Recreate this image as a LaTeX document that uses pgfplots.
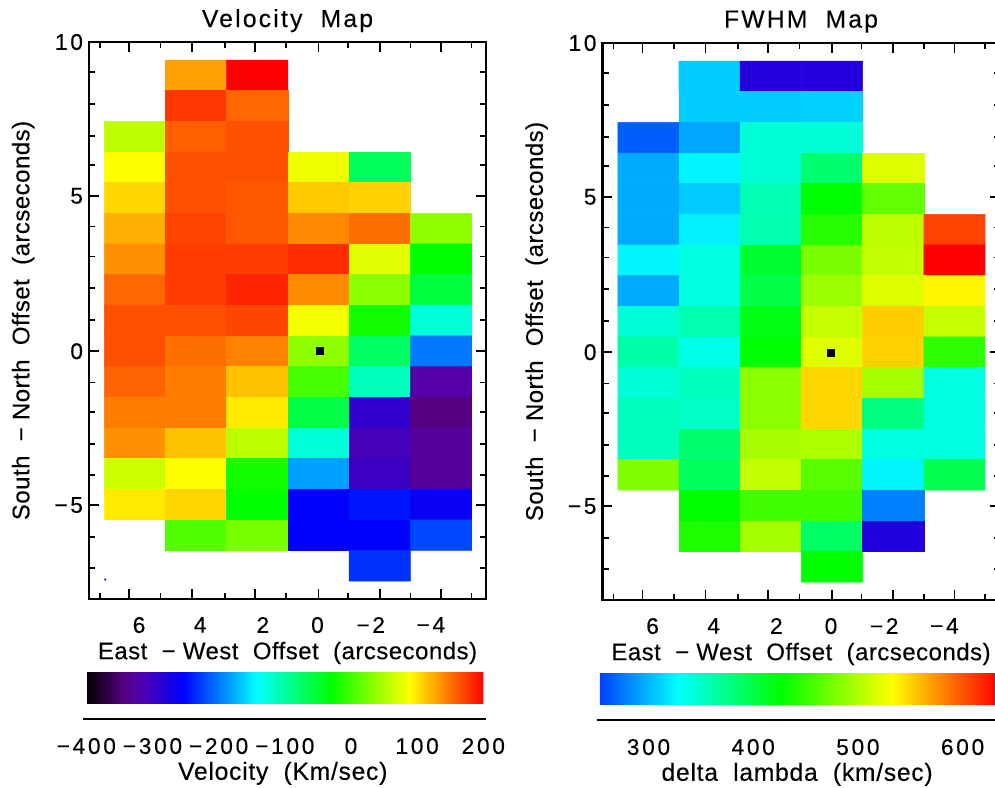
\documentclass[border=0pt]{standalone}
\usepackage{fontspec}
\setmainfont{Liberation Sans}
\newfontfamily\tickfont{Liberation Sans}[LetterSpace=12,FakeBold=0.25]
\newfontfamily\labfont{Liberation Sans}[LetterSpace=3,FakeBold=0.25]
\newfontfamily\axfont{Liberation Sans}[LetterSpace=2,FakeBold=0.25]
\newfontfamily\titfont{Liberation Sans}[LetterSpace=9,FakeBold=0.25]
\usepackage{pgfplots}
\usepackage{pgfplotstable}
\pgfplotsset{compat=1.18}
\pgfplotstableread[row sep=\\]{
x y c\\
6 9 nan\\ 4 9 129\\ 2 9 200\\ 0 9 nan\\ -2 9 nan\\ -4 9 nan\\
6 8 nan\\ 4 8 176\\ 2 8 154\\ 0 8 nan\\ -2 8 nan\\ -4 8 nan\\
6 7 57\\ 4 7 158\\ 2 7 164\\ 0 7 nan\\ -2 7 nan\\ -4 7 nan\\
6 6 87\\ 4 6 165\\ 2 6 165\\ 0 6 80\\ -2 6 -70\\ -4 6 nan\\
6 5 105\\ 4 5 165\\ 2 5 162\\ 0 5 111\\ -2 5 107\\ -4 5 nan\\
6 4 122\\ 4 4 171\\ 2 4 162\\ 0 4 140\\ -2 4 151\\ -4 4 36\\
6 3 136\\ 4 3 173\\ 2 3 173\\ 0 3 180\\ -2 3 73\\ -4 3 -31\\
6 2 154\\ 4 2 173\\ 2 2 184\\ 0 2 138\\ -2 2 34\\ -4 2 -57\\
6 1 165\\ 4 1 165\\ 2 1 169\\ 0 1 82\\ -2 1 -22\\ -4 1 -125\\
6 0 165\\ 4 0 151\\ 2 0 142\\ 0 0 36\\ -2 0 -75\\ -4 0 -201\\
6 -1 156\\ 4 -1 145\\ 2 -1 114\\ 0 -1 1\\ -2 -1 -114\\ -4 -1 -322\\
6 -2 145\\ 4 -2 145\\ 2 -2 96\\ 0 -2 -62\\ -2 -2 -294\\ -4 -2 -343\\
6 -3 136\\ 4 -3 114\\ 2 -3 57\\ 0 -3 -125\\ -2 -3 -310\\ -4 -3 -330\\
6 -4 64\\ 4 -4 87\\ 2 -4 -22\\ 0 -4 -184\\ -2 -4 -302\\ -4 -4 -330\\
6 -5 96\\ 4 -5 105\\ 2 -5 -31\\ 0 -5 -254\\ -2 -5 -245\\ -4 -5 -262\\
6 -6 nan\\ 4 -6 6\\ 2 -6 24\\ 0 -6 -254\\ -2 -6 -254\\ -4 -6 -223\\
6 -7 nan\\ 4 -7 nan\\ 2 -7 nan\\ 0 -7 nan\\ -2 -7 -232\\ -4 -7 nan\\
}\velocitydata
\pgfplotstableread[row sep=\\]{
x y c\\
6 9 nan\\ 4 9 308\\ 2 9 203\\ 0 9 203\\ -2 9 nan\\ -4 9 nan\\
6 8 nan\\ 4 8 308\\ 2 8 308\\ 0 8 310\\ -2 8 nan\\ -4 8 nan\\
6 7 265\\ 4 7 293\\ 2 7 344\\ 0 7 344\\ -2 7 nan\\ -4 7 nan\\
6 6 295\\ 4 6 324\\ 2 6 344\\ 0 6 384\\ -2 6 519\\ -4 6 nan\\
6 5 295\\ 4 5 308\\ 2 5 357\\ 0 5 427\\ -2 5 468\\ -4 5 nan\\
6 4 295\\ 4 4 322\\ 2 4 359\\ 0 4 443\\ -2 4 505\\ -4 4 607\\
6 3 324\\ 4 3 340\\ 2 3 408\\ 0 3 478\\ -2 3 507\\ -4 3 633\\
6 2 295\\ 4 2 340\\ 2 2 400\\ 0 2 491\\ -2 2 519\\ -4 2 536\\
6 1 344\\ 4 1 359\\ 2 1 419\\ 0 1 509\\ -2 1 552\\ -4 1 509\\
6 0 361\\ 4 0 337\\ 2 0 427\\ 0 0 519\\ -2 0 550\\ -4 0 446\\
6 -1 344\\ 4 -1 354\\ 2 -1 485\\ 0 -1 548\\ -2 -1 495\\ -4 -1 340\\
6 -2 354\\ 4 -2 349\\ 2 -2 485\\ 0 -2 548\\ -2 -2 377\\ -4 -2 340\\
6 -3 354\\ 4 -3 384\\ 2 -3 497\\ 0 -3 499\\ -2 -3 340\\ -4 -3 340\\
6 -4 480\\ 4 -4 392\\ 2 -4 507\\ 0 -4 464\\ -2 -4 324\\ -4 -4 396\\
6 -5 nan\\ 4 -5 427\\ 2 -5 454\\ 0 -5 454\\ -2 -5 279\\ -4 -5 nan\\
6 -6 nan\\ 4 -6 439\\ 2 -6 495\\ 0 -6 388\\ -2 -6 205\\ -4 -6 nan\\
6 -7 nan\\ 4 -7 nan\\ 2 -7 nan\\ 0 -7 427\\ -2 -7 nan\\ -4 -7 nan\\
}\fwhmdata
\newcommand\ticksize{\tickfont\fontsize{17}{20}\selectfont}
\newcommand\labsize{\labfont\fontsize{18.5}{20}\selectfont}
\newcommand\axsize{\axfont\fontsize{18}{20}\selectfont}
\newcommand\titsize{\titfont\fontsize{18.5}{20}\selectfont}
\pgfplotsset{
  colormap={idl}{rgb255(0pt)=(0,0,0); rgb255(95pt)=(85,0,130); rgb255(130pt)=(85,0,170); rgb255(243pt)=(0,0,255); rgb255(430pt)=(0,255,255); rgb255(615pt)=(0,255,0); rgb255(812pt)=(255,255,0); rgb255(1000pt)=(255,0,0)},
  panel/.style={
    anchor=south west, scale only axis, width=297.75pt, height=417.75pt,
    x dir=reverse, xmin=-5.474, xmax=7.5, ymin=-8.085, ymax=10.09,
    axis line style={line width=1.8pt}, tick style={line width=1.3pt, black},
    tick align=inside, tick pos=both, major tick length=7.2pt,
    colormap name=idl,
    xtick={6.19,4.13,2.08,0,-2,-4},
    xticklabels={\kern15pt 6,\kern12pt 4,\kern12pt 2,0\kern1.5pt,−2\kern13.5pt,−4\kern15pt},
    extra x ticks={7.14,5.16,3.06,1.06,-0.96,-3.01,-5},
    extra x tick labels={},
    extra x tick style={major tick length=4.5pt},
    ytick={10.09,5.07,0,-5.02},
    yticklabels={\raisebox{-6pt}{10},\raisebox{-1.5pt}{5},0,\raisebox{-2pt}{−5}},
    extra y ticks={9.11,8.06,7.02,6.08,4.07,3.09,2.07,1.02,-1.02,-1.99,-3.03,-4.04,-6.06,-7.07},
    extra y tick labels={},
    extra y tick style={major tick length=4.5pt},
    tick label style={font=\ticksize},
    xticklabel style={yshift=-10pt},
    yticklabel style={xshift=-1pt},
    label style={font=\axsize},
    title style={font=\titsize, at={(axis description cs:0.5,1.024)}, anchor=center},
    xlabel={East \ −\  West\ \ Offset\ \ (arcseconds)},
    ylabel={South \ −\  North\ \ Offset\ \ (arcseconds)},
    xlabel style={at={(axis description cs:0.5,-0.0969)}, anchor=center},
    ylabel style={at={(axis description cs:-0.166,0.5)}, anchor=center},
    axis on top,
    colorbar horizontal,
    colorbar/width=23.25pt,
  },
  cbar/.style={
    scale only axis, width=297.75pt,
    at={(-0.0068,-0.1316)}, anchor=north west, xshift=0pt, yshift=0pt,
    axis line style={draw=none}, tick style={draw=none},
    tick label style={font=\ticksize},
    xticklabel style={yshift=-22.5pt},
    label style={font=\labsize},
  },
}
\begin{document}
\begin{tikzpicture}
\useasboundingbox (0,0) rectangle (746.25pt,-591pt);
\clip (0,0) rectangle (746.25pt,-591pt);
\begin{axis}[panel, at={(66.75pt,-449.25pt)},
  title={Velocity\ \ Map},
  point meta min=-400, point meta max=200,
  colorbar style={cbar,
    xtick={-400,-300,-200,-100,0,100,200},
    xticklabels={−400,−300,−200,−100,0,100,200},
    xlabel={Velocity\ \ (Km/sec)},
    xlabel style={at={(axis description cs:0.495,-2.26)}, anchor=center},
  }]
\addplot[matrix plot*, mesh/cols=6, point meta=explicit] table[x=x,y=y,meta=c]{\velocitydata};
\addplot[only marks, mark=*, mark size=0.6pt, color={rgb,255:red,85;green,0;blue,200}] coordinates {(6.97,-7.45)};
\addplot[only marks, mark=square*, mark size=2.6pt, black] coordinates {(-0.05,0)};
\end{axis}
\begin{axis}[panel, at={(451.875pt,-450pt)},
  title={FWHM\ \ Map},
  point meta min=98, point meta max=633,
  colorbar style={cbar,
    xmin=253.5, xmax=632.7,
    xtick={300,400,500,600},
    xticklabels={300,400,500,600},
    xlabel={delta\ \ lambda\ \ (km/sec)},
    xlabel style={at={(axis description cs:0.497,-2.26)}, anchor=center},
  }]
\addplot[matrix plot*, mesh/cols=6, point meta=explicit] table[x=x,y=y,meta=c]{\fwhmdata};
\addplot[only marks, mark=square*, mark size=2.6pt, black] coordinates {(0.03,-0.02)};
\end{axis}
\draw[line width=1.2pt] (62.25pt,-539.25pt) -- (364.5pt,-539.25pt);
\draw[line width=1.2pt] (447.5pt,-540pt) -- (746.25pt,-540pt);
\end{tikzpicture}
\end{document}
